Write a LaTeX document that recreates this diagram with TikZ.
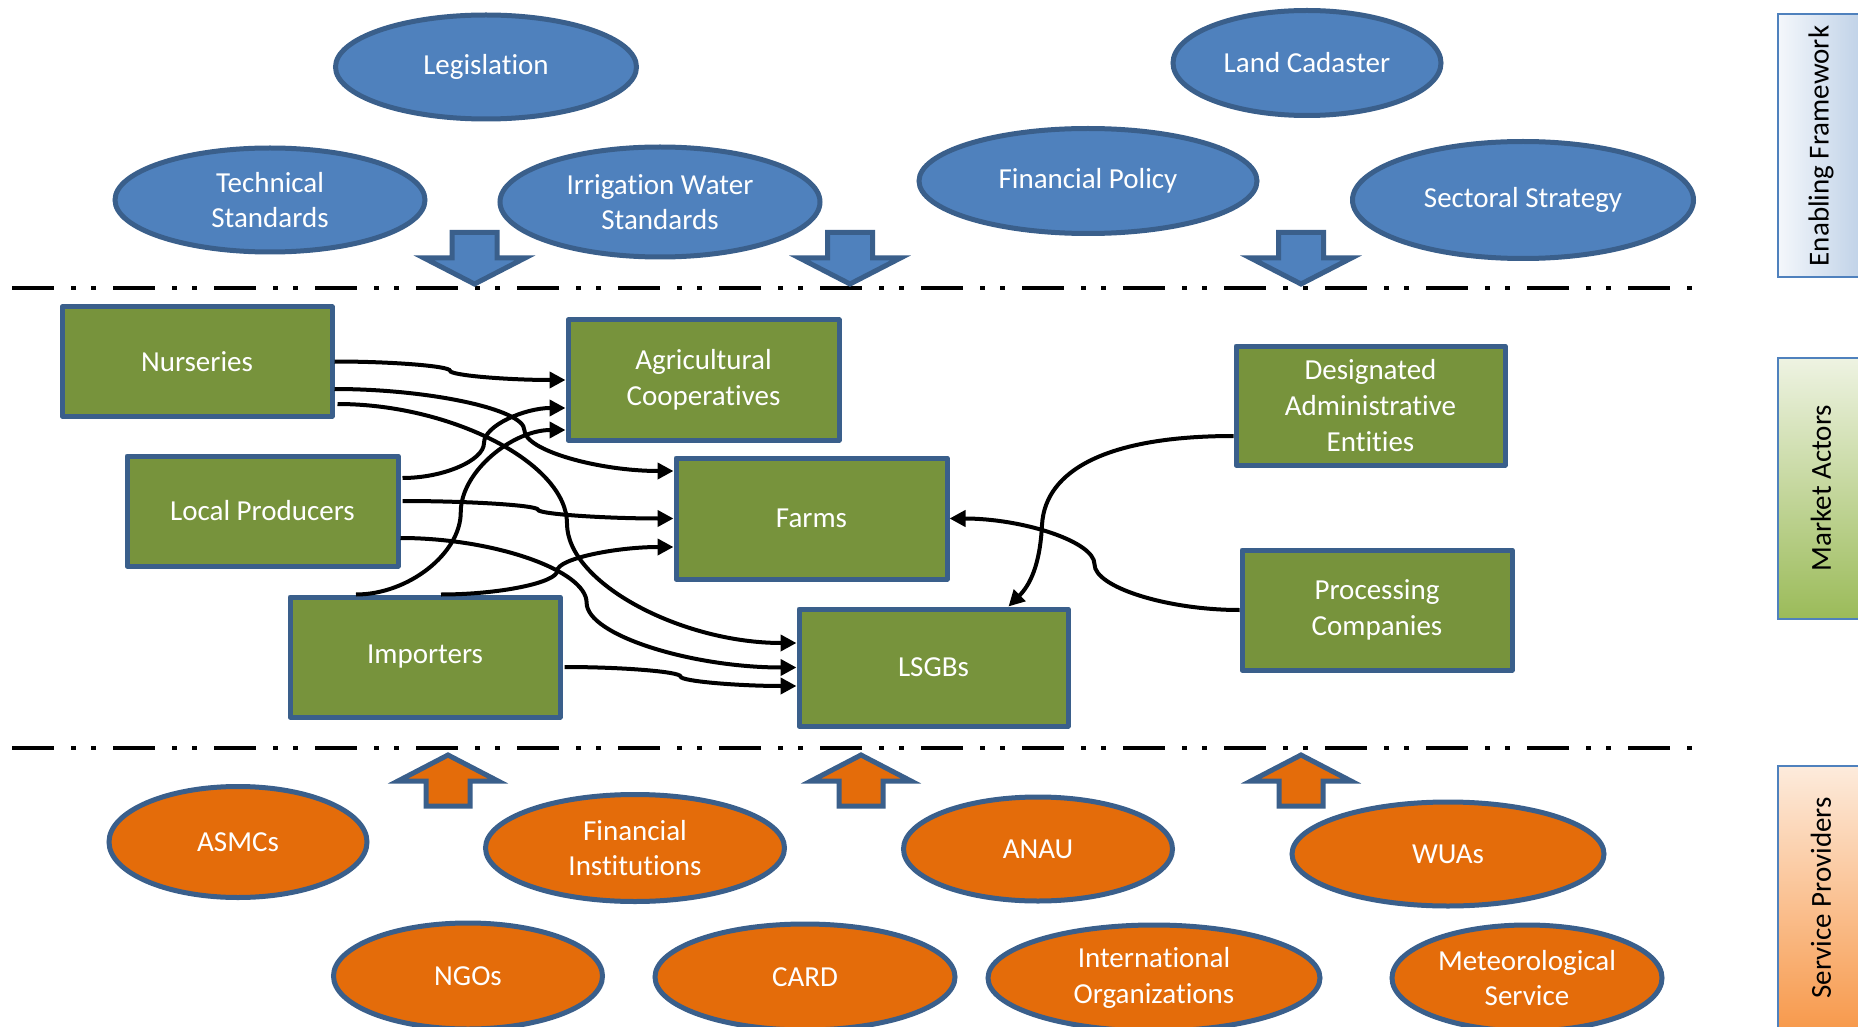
\documentclass[tikz,border=0pt]{standalone}
\usepackage{fontspec}
\setmainfont[Ligatures=NoCommon]{Carlito}
\usetikzlibrary{shapes.geometric,arrows.meta,calc}
\definecolor{bfill}{HTML}{4F81BD}
\definecolor{bline}{HTML}{3A5F8B}
\definecolor{gfill}{HTML}{77933C}
\definecolor{ofill}{HTML}{E46C0A}
\definecolor{efA}{HTML}{F4F7FB}
\definecolor{efB}{HTML}{B9CDE5}
\definecolor{maA}{HTML}{EEF3E2}
\definecolor{maB}{HTML}{9BBB59}
\definecolor{spA}{HTML}{FDEBDC}
\definecolor{spB}{HTML}{F79646}
\definecolor{sline}{HTML}{4F81BD}

% PowerPoint-like curved connector (curvedConnector3)
\newcommand\curvconn[3][0.5]{%
  \draw[conn] let \p1=(#2), \p2=(#3) in
   (\p1) .. controls ({\x1+#1*((\x2)-(\x1))/2},\y1) and ({\x1+#1*((\x2)-(\x1))},{\y1+((\y2)-(\y1))/4})
   .. ({\x1+#1*((\x2)-(\x1))},{((\y1)+(\y2))/2})
   .. controls ({\x1+#1*((\x2)-(\x1))},{\y1+3*((\y2)-(\y1))/4}) and ({((\x2)+(\x1)+#1*((\x2)-(\x1)))/2},\y2)
   .. (\p2);}

\begin{document}
\begin{tikzpicture}[x=0.5pt,y=-0.5pt,
  every node/.style={font=\fontsize{14.5}{17.8}\selectfont, align=center},
  sz/.style 2 args={minimum width={#1*0.5pt}, minimum height={#2*0.5pt}},
  blueell/.style={ellipse, draw=bline, line width=2.5pt, fill=bfill, text=white, inner sep=0pt},
  orell/.style={ellipse, draw=bline, line width=2.5pt, fill=ofill, text=white, inner sep=0pt},
  gbox/.style={rectangle, draw=bline, line width=2.5pt, line join=round, fill=gfill, text=white, inner sep=0pt},
  conn/.style={line width=2pt, -{Triangle[length=8pt,width=8pt]}},
  sepline/.style={line width=2pt, dash pattern=on 21pt off 8.5pt on 2.5pt off 7.5pt on 2.5pt off 8.5pt},
  blockarrow/.style={line width=2.5pt, draw=bline, line join=miter},
  sidebox/.style={draw=sline, line width=1pt},
  sidetext/.style={rotate=90, text=black}
]
\fill[white] (0,0) rectangle (1858,1027);
\useasboundingbox (0,0) rectangle (1858,1027);
\clip (0,0) rectangle (1858,1027);

% separators
\draw[sepline] (12,288) -- (1698,288);
\draw[sepline] (12,748) -- (1698,748);

% side boxes
\path[sidebox, left color=efA, right color=efB] (1778,14) rectangle (1872,277);
\node[sidetext] (tef) at (1821,146) {Enabling Framework};
\path[sidebox, top color=maA, bottom color=maB] (1778,358) rectangle (1872,619);
\node[sidetext] (tma) at (1821,488) {Market Actors};
\path[sidebox, top color=spA, bottom color=spB] (1778,766) rectangle (1872,1040);
\node[sidetext] (tsp) at (1821,898) {Service Providers};

% enabling framework
\node[blueell, sz={301}{104}] (leg)  at (486,67)  {Legislation};
\node[blueell, sz={310}{104}] (tech) at (270,200) {Technical\\Standards};
\node[blueell, sz={320}{110}] (irr)  at (660,202) {Irrigation Water\\Standards};
\node[blueell, sz={268}{105}] (land) at (1307,63) {Land Cadaster};
\node[blueell, sz={338}{105}] (fin)  at (1088,181) {Financial Policy};
\node[blueell, sz={341}{117}] (sect) at (1523,200) {Sectoral Strategy};

% down arrows
\foreach \c in {474.5,850,1301}{
  \draw[blockarrow, fill=bfill] (\c-22.5,232.5) -- (\c+22.5,232.5) -- (\c+22.5,258) -- (\c+50.5,258)
    -- (\c,284) -- (\c-50.5,258) -- (\c-22.5,258) -- cycle;
}

% up arrows
\foreach \c in {448,861,1301}{
  \draw[blockarrow, fill=ofill] (\c-22,806) -- (\c+22,806) -- (\c+22,781) -- (\c+50,781)
    -- (\c,755) -- (\c-50,781) -- (\c-22,781) -- cycle;
}

% market actors
\node[gbox, sz={270}{109}] (nur)   at (197,361.5)  {Nurseries};
\node[gbox, sz={271}{120}] (coop)  at (703.5,380)  {Agricultural\\Cooperatives};
\node[gbox, sz={271}{110}] (lp)    at (262.5,511)  {Local Producers};
\node[gbox, sz={271}{121}] (farms) at (811.5,518.5){Farms};
\node[gbox, sz={270}{120}] (imp)   at (425,657)    {Importers};
\node[gbox, sz={269}{117}] (lsgb)  at (933.5,667.5){LSGBs};
\node[gbox, sz={269}{119}] (dae)   at (1370.5,405.5){Designated\\Administrative\\Entities};
\node[gbox, sz={270}{120}] (pc)    at (1377,610)   {Processing\\Companies};

% service providers
\node[orell, sz={258}{111}] (asmc) at (238,842)  {ASMCs};
\node[orell, sz={299}{107}] (fi)   at (635,848)  {Financial\\Institutions};
\node[orell, sz={269}{104}] (anau) at (1038,849) {ANAU};
\node[orell, sz={312}{104}] (wua)  at (1448,854) {WUAs};
\node[orell, sz={269}{106}] (ngo)  at (468,976)  {NGOs};
\node[orell, sz={300}{106}] (card) at (805,977)  {CARD};
\node[orell, sz={332}{106}] (intl) at (1154,978) {International\\Organizations};
\node[orell, sz={270}{106}] (met)  at (1527,978) {Meteorological\\Service};

% connectors
\curvconn{nur.east}{coop.west}
\curvconn[0.56]{$(nur.east)+(0,27.5)$}{$(farms.west)+(0,-47.5)$}
\curvconn{$(nur.east)+(3,42.5)$}{$(lsgb.west)+(0,-24.5)$}
\curvconn{$(lp.east)+(2,-33)$}{$(coop.west)+(0,28)$}
\curvconn{$(lp.east)+(2,-10)$}{farms.west}
\curvconn[0.47]{$(lp.east)+(0,27)$}{lsgb.west}
\curvconn{$(imp.north)+(-69,0)$}{$(coop.west)+(0,50)$}
\curvconn{$(imp.north)+(16,0)$}{$(farms.west)+(0,28.5)$}
\curvconn{$(imp.east)+(2,10)$}{$(lsgb.west)+(0,18.5)$}
\curvconn{pc.west}{farms.east}
\draw[conn] ($(dae.west)+(0,30.5)$) .. controls +(-126,0) and (1045,470) .. (1042,525)
  .. controls (1040,565) and (1030,585) .. ($(lsgb.north)+(75,0)$);
\end{tikzpicture}
\end{document}
